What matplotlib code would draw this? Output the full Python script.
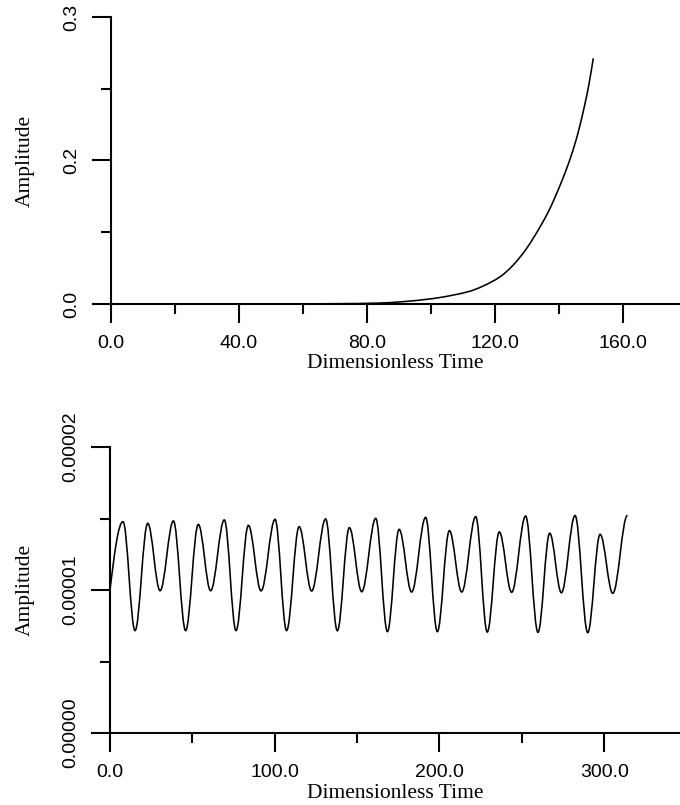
import numpy as np
import matplotlib
matplotlib.use("Agg")
import matplotlib.pyplot as plt
from matplotlib.path import Path
from matplotlib.patches import PathPatch

# ---- top panel: growing amplitude ----
t_grow = [0, 40, 60, 70, 84.1, 94.5, 102.8, 111.2, 116.3, 121.6, 125.7, 129.9,
          134.1, 137.3, 141.0, 143.7, 145.9, 147.9, 149.4, 150.7]
amp_grow = [0.0, 0.0, 0.0001, 0.0003, 0.0010, 0.0034, 0.0068, 0.0125, 0.0188,
            0.0285, 0.0408, 0.0582, 0.0808, 0.1008, 0.1296, 0.1540, 0.1784,
            0.2062, 0.2307, 0.2568]

top_xticks = [0, 40, 80, 120, 160]
top_xlabels = ["0.0", "40.0", "80.0", "120.0", "160.0"]
top_yticks = [0.0, 0.15, 0.3]
top_ylabels = ["0.0", "0.2", "0.3"]

# ---- bottom panel: bounded oscillation, turning points (units of 1e-5) ----
t_osc = [0, 7.9, 15.2, 22.9, 30.4, 38.5, 45.9, 53.6, 61.1, 69.4,
         76.5, 84.0, 91.7, 100.2, 107.2, 114.8, 122.4, 130.9, 138.0, 145.3,
         152.8, 161.3, 168.4, 175.5, 183.1, 191.6, 198.7, 206.0, 213.5, 222.0,
         229.0, 236.3, 243.8, 252.3, 259.8, 266.9, 274.0, 282.3, 290.0, 297.5,
         305.2, 314.1]
amp_osc = [1.000, 1.478, 0.716, 1.466, 0.995, 1.483, 0.716, 1.459, 0.995, 1.490,
           0.716, 1.452, 0.994, 1.494, 0.716, 1.443, 0.993, 1.497, 0.715, 1.436,
           0.988, 1.501, 0.709, 1.424, 0.986, 1.508, 0.709, 1.415, 0.986, 1.513,
           0.706, 1.406, 0.984, 1.517, 0.704, 1.397, 0.981, 1.521, 0.702, 1.389,
           0.977, 1.522]

bot_xticks = [0, 100, 200, 300]
bot_xlabels = ["0.0", "100.0", "200.0", "300.0"]
bot_yticks = [0.0, 1e-5, 2e-5]
bot_ylabels = ["0.00000", "0.00001", "0.00002"]

TICK_FONT = {"family": "Liberation Sans", "size": 14}
LABEL_FONT = {"family": "Liberation Serif", "size": 15.5}
AXIS_LW = 1.5
CURVE_LW = 1.15


def style_axes(ax, xticks, xlabels, xminor, yticks, ylabels, yminor):
    for s in ("top", "right"):
        ax.spines[s].set_visible(False)
    for s in ("left", "bottom"):
        ax.spines[s].set_linewidth(AXIS_LW)
    ax.set_xticks(xticks)
    ax.set_xticklabels(xlabels, fontdict=TICK_FONT)
    ax.set_xticks(xminor, minor=True)
    ax.set_yticks(yticks)
    ax.set_yticklabels(ylabels, fontdict=TICK_FONT, rotation=90, va="center")
    ax.set_yticks(yminor, minor=True)
    ax.tick_params(which="major", direction="out", length=14, width=AXIS_LW, color="black")
    ax.tick_params(which="minor", direction="out", length=7, width=AXIS_LW, color="black")
    ax.tick_params(axis="x", which="major", pad=8)
    ax.tick_params(axis="y", which="major", pad=8)


def extrema_path(xs, ys):
    """Cubic segments between turning points (flat tangents at extrema)."""
    verts = [(xs[0], ys[0])]
    codes = [Path.MOVETO]
    a = 0.364
    for i in range(len(xs) - 1):
        dx = xs[i + 1] - xs[i]
        dy = ys[i + 1] - ys[i]
        if i == 0:
            c1 = (xs[0] + dx * 0.33, ys[0] + dy * 0.52)
        else:
            c1 = (xs[i] + a * dx, ys[i])
        c2 = (xs[i + 1] - a * dx, ys[i + 1])
        verts += [c1, c2, (xs[i + 1], ys[i + 1])]
        codes += [Path.CURVE4] * 3
    return Path(verts, codes)


def catmull_path(xs, ys):
    """Smooth curve through the read points (Catmull-Rom as Bezier)."""
    p = np.column_stack([xs, ys]).astype(float)
    n = len(p)
    verts = [tuple(p[0])]
    codes = [Path.MOVETO]
    for i in range(n - 1):
        p0 = p[i - 1] if i > 0 else p[i]
        p3 = p[i + 2] if i + 2 < n else p[i + 1]
        c1 = p[i] + (p[i + 1] - p0) / 6
        c2 = p[i + 1] - (p3 - p[i]) / 6
        verts += [tuple(c1), tuple(c2), tuple(p[i + 1])]
        codes += [Path.CURVE4] * 3
    return Path(verts, codes)


fig = plt.figure(figsize=(6.8, 8.05), dpi=100)

# top panel
ax1 = fig.add_axes([111 / 680, 501 / 805, 569 / 680, 287 / 805])
ax1.add_patch(PathPatch(catmull_path(t_grow, amp_grow), facecolor="none",
                        edgecolor="black", linewidth=CURVE_LW))
ax1.set_xlim(0, 177.8)
ax1.set_ylim(0, 0.3)
style_axes(ax1, top_xticks, top_xlabels, [20, 60, 100, 140],
           top_yticks, top_ylabels, [0.075, 0.225])
ax1.set_xlabel("Dimensionless Time", fontdict=LABEL_FONT, va="baseline")
ax1.xaxis.set_label_coords(0.5, -0.223)
ax1.set_ylabel("Amplitude", fontdict=LABEL_FONT, va="center")
ax1.yaxis.set_label_coords(-0.151, 0.5)

# bottom panel
ax2 = fig.add_axes([110 / 680, 72 / 805, 570 / 680, 286 / 805])
osc_y = [v * 1e-5 for v in amp_osc]
ax2.add_patch(PathPatch(extrema_path(t_osc, osc_y), facecolor="none",
                        edgecolor="black", linewidth=CURVE_LW))
ax2.set_xlim(0, 346)
ax2.set_ylim(0, 2e-5)
style_axes(ax2, bot_xticks, bot_xlabels, [50, 150, 250],
           bot_yticks, bot_ylabels, [0.5e-5, 1.5e-5])
ax2.set_xlabel("Dimensionless Time", fontdict=LABEL_FONT, va="baseline")
ax2.xaxis.set_label_coords(0.5, -0.227)
ax2.set_ylabel("Amplitude", fontdict=LABEL_FONT, va="center")
ax2.yaxis.set_label_coords(-0.149, 0.5)

fig.savefig("out.png", dpi=100)
